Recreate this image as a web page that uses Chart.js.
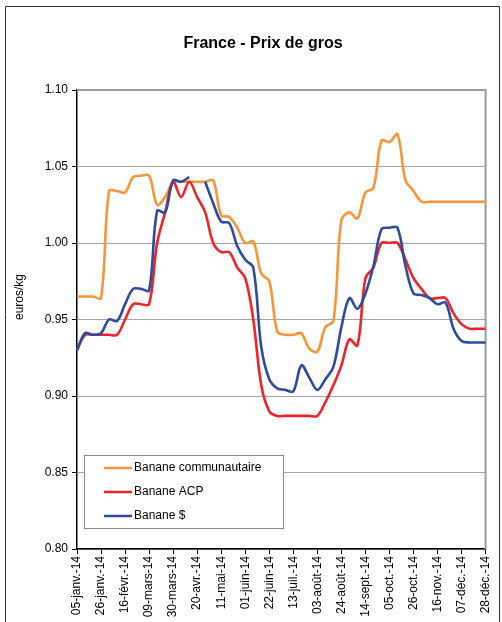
<!DOCTYPE html>
<html><head><meta charset="utf-8">
<script src="https://cdn.jsdelivr.net/npm/chart.js@4.4.1/dist/chart.umd.min.js"></script>
<style>html,body{margin:0;padding:0;background:#fff}#wrap{position:relative;width:502px;height:622px}</style>
</head><body><div id="wrap"><canvas id="c" width="502" height="622"></canvas></div>
<script>
const weeks = ["05-janv.-14","12-janv.-14","19-janv.-14","26-janv.-14","02-févr.-14","09-févr.-14","16-févr.-14","23-févr.-14",
"02-mars-14","09-mars-14","16-mars-14","23-mars-14","30-mars-14","06-avr.-14","13-avr.-14","20-avr.-14","27-avr.-14",
"04-mai-14","11-mai-14","18-mai-14","25-mai-14","01-juin-14","08-juin-14","15-juin-14","22-juin-14","29-juin-14",
"06-juil.-14","13-juil.-14","20-juil.-14","27-juil.-14","03-août-14","10-août-14","17-août-14","24-août-14","31-août-14",
"07-sept.-14","14-sept.-14","21-sept.-14","28-sept.-14","05-oct.-14","12-oct.-14","19-oct.-14","26-oct.-14",
"02-nov.-14","09-nov.-14","16-nov.-14","23-nov.-14","30-nov.-14","07-déc.-14","14-déc.-14","21-déc.-14","28-déc.-14"];

const communautaire = [0.965,0.965,0.965,0.964,1.034,1.034,1.033,1.043,1.044,1.044,1.025,1.030,1.040,1.040,1.040,1.040,1.040,1.041,
1.018,1.017,1.010,1.000,1.001,0.980,0.975,0.942,0.940,0.940,0.941,0.931,0.929,0.945,0.949,1.015,1.020,1.016,1.033,1.036,
1.067,1.066,1.071,1.041,1.034,1.027,1.027,1.027,1.027,1.027,1.027,1.027,1.027,1.027];

const acp = [0.930,0.940,0.940,0.940,0.940,0.940,0.950,0.960,0.960,0.960,1.000,1.020,1.040,1.030,1.040,1.030,1.020,1.000,
0.994,0.994,0.984,0.977,0.950,0.907,0.890,0.887,0.887,0.887,0.887,0.887,0.887,0.896,0.907,0.920,0.937,0.933,0.977,0.984,
1.000,1.000,1.000,0.989,0.977,0.970,0.964,0.964,0.964,0.954,0.947,0.944,0.944,0.944];

const dollar = [0.930,0.941,0.940,0.941,0.950,0.949,0.960,0.970,0.970,0.969,1.021,1.020,1.041,1.040,1.043,null,1.040,1.026,
1.014,1.013,0.998,0.989,0.984,0.932,0.911,0.905,0.904,0.903,0.920,0.912,0.904,0.911,0.919,0.945,0.964,0.957,0.967,0.985,
1.009,1.010,1.010,0.985,0.967,0.966,0.964,0.960,0.961,0.944,0.936,0.935,0.935,0.935];

const seriesNames = ["Banane communautaire","Banane ACP","Banane $"];
const seriesColors = ["#F7953B","#EE2428","#2F4B9E"];
const chartTitle = "France - Prix de gros";
const yTitle = "euros/kg";
const FONT = "'Liberation Sans', Arial, sans-serif";

const decor = {
  id: 'decor',
  afterLayout(chart) {
    const tb = chart.titleBlock;
    if (tb) { const d = 263 - (tb.left + tb.right) / 2; tb.left += d; tb.right += d; }
  },
  beforeDraw(chart) {
    const ctx = chart.ctx;
    ctx.save();
    ctx.fillStyle = '#fff';
    ctx.fillRect(0, 0, chart.width, chart.height);
    ctx.strokeStyle = '#333';
    ctx.lineWidth = 1;
    ctx.beginPath();
    ctx.moveTo(5.5, 640); ctx.lineTo(5.5, 6.5); ctx.lineTo(499.5, 6.5); ctx.lineTo(499.5, 640);
    ctx.stroke();
    // y axis title
    ctx.translate(20, 297);
    ctx.rotate(-Math.PI / 2);
    ctx.fillStyle = '#000';
    ctx.font = '12px ' + FONT;
    ctx.textAlign = 'center';
    ctx.textBaseline = 'middle';
    ctx.fillText(yTitle, 0, 0);
    ctx.restore();
  },
  beforeDatasetsDraw(chart) {
    const {ctx, chartArea: a} = chart;
    ctx.save();
    ctx.strokeStyle = '#9A9A9A';
    ctx.lineWidth = 2;
    ctx.beginPath();
    ctx.moveTo(a.left, a.top); ctx.lineTo(a.right, a.top); ctx.lineTo(a.right, a.bottom);
    ctx.stroke();
    ctx.restore();
  },
  afterDatasetsDraw(chart) {
    const ctx = chart.ctx;
    ctx.save();
    const bx = 84.5, by = 455.5, bw = 199, bh = 73;
    ctx.fillStyle = '#fff';
    ctx.fillRect(bx, by, bw, bh);
    ctx.strokeStyle = '#8C8C8C';
    ctx.lineWidth = 1;
    ctx.strokeRect(bx, by, bw, bh);
    ctx.font = '12px ' + FONT;
    ctx.textBaseline = 'middle';
    ctx.textAlign = 'left';
    for (let i = 0; i < seriesNames.length; i++) {
      const y = 468 + i * 24;
      ctx.strokeStyle = seriesColors[i];
      ctx.lineWidth = 2.5;
      ctx.beginPath(); ctx.moveTo(104, y); ctx.lineTo(132, y); ctx.stroke();
      ctx.fillStyle = '#000';
      ctx.fillText(seriesNames[i], 134, y);
    }
    ctx.restore();
  }
};

const mk = (label, data, color, order) => ({
  label, data, borderColor: color, backgroundColor: color, borderWidth: 2.6,
  pointRadius: 0, tension: 0.35, fill: false, order, spanGaps: false
});

new Chart(document.getElementById('c'), {
  type: 'line',
  data: {
    labels: weeks,
    datasets: [
      mk(seriesNames[0], communautaire, seriesColors[0], 2),
      mk(seriesNames[1], acp, seriesColors[1], 1),
      mk(seriesNames[2], dollar, seriesColors[2], 0)
    ]
  },
  options: {
    responsive: false,
    devicePixelRatio: 1,
    animation: false,
    layout: { padding: { left: 6, right: 11, top: 0, bottom: 0 } },
    plugins: {
      legend: { display: false },
      tooltip: { enabled: false },
      title: {
        display: true, text: chartTitle, color: '#000',
        font: { family: FONT, size: 16, weight: 'bold' },
        padding: { top: 34, bottom: 36.8 }
      }
    },
    scales: {
      x: {
        type: 'category',
        offset: false,
        afterFit: s => { s.height = 73; },
        grid: { drawOnChartArea: false, drawTicks: true, tickLength: 5, color: '#000' },
        border: { display: true, color: '#000', width: 1.5 },
        ticks: {
          autoSkip: false, maxRotation: 90, minRotation: 90, padding: 2,
          color: '#000', font: { family: FONT, size: 12 },
          callback: (v, i) => (i % 3 === 0 ? weeks[i] : null)
        }
      },
      y: {
        min: 0.8, max: 1.1,
        afterFit: s => { s.width = 71; },
        grid: { color: '#A6A6A6', lineWidth: 1, tickColor: '#000', tickLength: 5, drawTicks: true },
        border: { display: true, color: '#000', width: 1.5 },
        ticks: {
          stepSize: 0.05, padding: 4, color: '#000',
          font: { family: FONT, size: 12 },
          callback: v => Number(v).toFixed(2)
        },
        title: { display: false, text: yTitle }
      }
    }
  },
  plugins: [decor]
});
</script></body></html>
